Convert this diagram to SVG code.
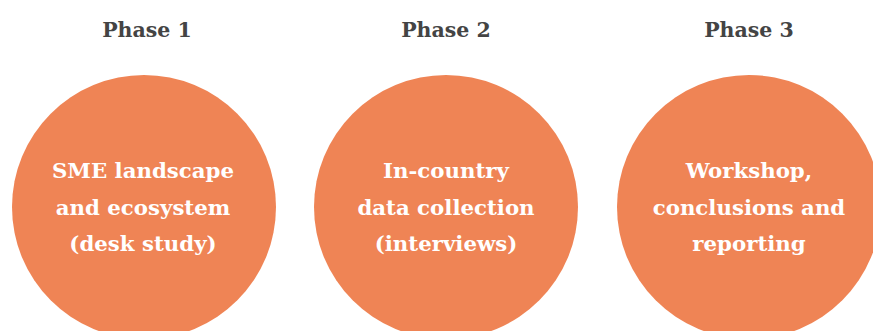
<svg xmlns="http://www.w3.org/2000/svg" width="873" height="331" viewBox="0 0 873 331">
<style>
.phase{font-family:"DejaVu Serif","Liberation Serif",serif;font-weight:bold;font-size:20.5px;fill:#444444;text-anchor:middle;}
.circ{fill:#EF8455;}
.lbl{font-family:"DejaVu Serif","Liberation Serif",serif;font-weight:bold;font-size:21.3px;fill:#FFFFFF;text-anchor:middle;}
</style>
<rect width="873" height="331" fill="#FFFFFF"/>
<g id="phase1">
<text class="phase" x="147" y="37">Phase 1</text>
<circle class="circ" cx="144" cy="207" r="132"/>
<text class="lbl" x="143" y="178">SME landscape</text>
<text class="lbl" x="143" y="215">and ecosystem</text>
<text class="lbl" x="143" y="251">(desk study)</text>
</g>
<g id="phase2">
<text class="phase" x="446" y="37">Phase 2</text>
<circle class="circ" cx="446" cy="207" r="132"/>
<text class="lbl" x="446" y="178">In-country</text>
<text class="lbl" x="446" y="215">data collection</text>
<text class="lbl" x="446" y="251">(interviews)</text>
</g>
<g id="phase3">
<text class="phase" x="749" y="37">Phase 3</text>
<circle class="circ" cx="749" cy="207" r="132"/>
<text class="lbl" x="749" y="178">Workshop,</text>
<text class="lbl" x="749" y="215">conclusions and</text>
<text class="lbl" x="749" y="251">reporting</text>
</g>
<g id="connectors"></g>
</svg>
